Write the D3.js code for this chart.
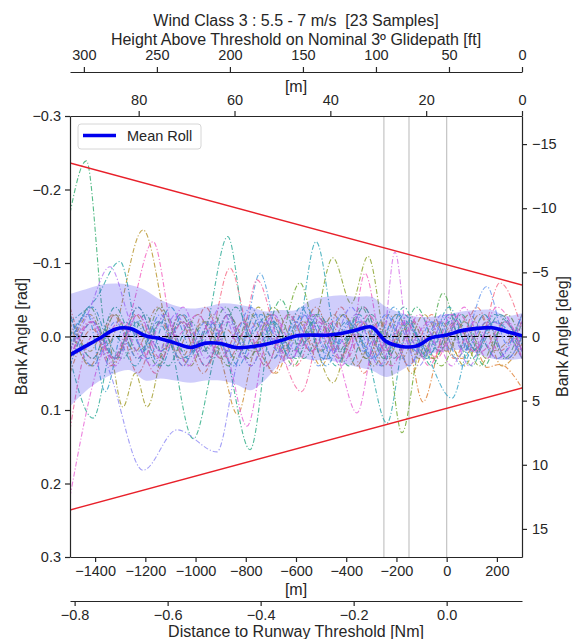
<!DOCTYPE html>
<html>
<head>
<meta charset="utf-8">
<script src="https://cdn.jsdelivr.net/npm/d3@7"></script>
<style>
  body { margin: 0; background: #fff; }
  text { font-family: "Liberation Sans", Arial, sans-serif; fill: #262626; }
</style>
</head>
<body>
<script>
// ticks
var xTicksM = [-1400, -1200, -1000, -800, -600, -400, -200, 0, 200];
var yTicksRad = [-0.3, -0.2, -0.1, 0.0, 0.1, 0.2, 0.3];
var yTicksDeg = [-15, -10, -5, 0, 5, 10, 15];
var ftTicks = [300, 250, 200, 150, 100, 50, 0];
var heightMTicks = [80, 60, 40, 20, 0];
var nmTicks = [-0.8, -0.6, -0.4, -0.2, 0.0];

// reference lines
var markerLinesM = [-250, -150, 0];
var envelopeM = [-1500, 300];
var envelopeRad = [0.236, 0.070];

// mean roll and +/- std band on a 60 m grid
var gridM = [-1500, -1440, -1380, -1320, -1260, -1200, -1140, -1080, -1020, -960, -900, -840, -780, -720, -660, -600,
  -540, -480, -420, -360, -300, -240, -180, -120, -60, 0, 60, 120, 180, 240, 300];
var meanRoll = [0.025, 0.0135, 0.002, -0.010, -0.011, -0.001, 0.003, 0.009, 0.015, 0.009, 0.0095, 0.015, 0.014, 0.0105, 0.0055, -0.0007,
  -0.002, -0.0017, -0.004, -0.009, -0.013, 0.007, 0.0135, 0.013, 0.0015, -0.002, -0.008, -0.011, -0.0118, -0.0065, -0.001];
var bandNeg = [-0.058, -0.064, -0.070, -0.072, -0.070, -0.063, -0.050, -0.042, -0.038, -0.040, -0.045, -0.044, -0.040, -0.034, -0.036, -0.036,
  -0.050, -0.054, -0.056, -0.054, -0.054, -0.040, -0.032, -0.027, -0.027, -0.030, -0.034, -0.036, -0.036, -0.028, -0.032];
var bandPos = [0.095, 0.075, 0.060, 0.050, 0.046, 0.060, 0.057, 0.060, 0.063, 0.060, 0.060, 0.065, 0.073, 0.058, 0.036, 0.028,
  0.032, 0.032, 0.036, 0.041, 0.046, 0.055, 0.046, 0.032, 0.023, 0.020, 0.018, 0.023, 0.030, 0.032, 0.030];

// 23 individual approaches, [distance m, roll rad] at turning points
var samples = [
  [[-1500,0.03],[-1420,-0.02],[-1340,0.04],[-1250,-0.01],[-1160,0.05],[-1060,-0.03],[-960,0.02],[-863,-0.093],[-770,0.01],[-690,-0.03],[-600,0.04],[-510,-0.02],[-420,0.03],[-330,-0.04],[-240,0.02],[-150,-0.03],[-60,0.03],[30,-0.02],[120,0.02],[212,-0.073],[300,-0.01]],
  [[-1500,-0.04],[-1410,0.03],[-1320,-0.03],[-1230,0.05],[-1140,-0.02],[-1050,0.04],[-960,-0.04],[-870,0.03],[-780,-0.02],[-690,0.05],[-600,-0.03],[-510,0.02],[-420,-0.04],[-330,0.05],[-240,-0.02],[-150,0.04],[-60,-0.03],[30,0.03],[120,-0.04],[210,0.02],[300,-0.03]],
  [[-1500,0.05],[-1410,-0.01],[-1330,0.04],[-1240,-0.03],[-1150,0.03],[-1060,-0.02],[-970,0.05],[-880,-0.01],[-790,0.03],[-700,-0.03],[-610,0.02],[-520,-0.04],[-430,0.03],[-340,-0.02],[-250,0.04],[-170,-0.01],[-94,0.089],[-10,0.0],[60,0.03],[110,0.015],[160,0.042],[210,0.038],[300,0.07]],
  [[-1500,-0.02],[-1420,0.04],[-1330,-0.03],[-1240,0.02],[-1150,-0.04],[-1060,0.03],[-970,-0.02],[-900,0.03],[-833,0.106],[-760,0.02],[-680,0.05],[-590,-0.02],[-500,0.04],[-410,-0.03],[-320,0.03],[-230,-0.03],[-140,0.05],[-50,-0.02],[40,0.03],[130,-0.03],[220,0.04],[300,0.01]],
  [[-1500,0.02],[-1420,-0.03],[-1350,0.01],[-1209,-0.145],[-1080,0.02],[-990,-0.03],[-900,0.03],[-810,-0.02],[-720,0.04],[-630,-0.03],[-540,0.02],[-450,-0.03],[-360,0.04],[-270,-0.02],[-180,0.03],[-90,-0.03],[0,0.02],[90,-0.03],[180,0.02],[300,-0.02]],
  [[-1500,-0.03],[-1420,0.02],[-1360,-0.01],[-1289,0.096],[-1240,0.05],[-1193,0.096],[-1110,0.0],[-1020,0.04],[-930,-0.03],[-840,0.03],[-750,-0.04],[-660,0.02],[-570,-0.02],[-453,0.063],[-370,-0.01],[-290,0.04],[-200,-0.03],[-110,0.03],[-20,-0.02],[70,0.04],[160,-0.02],[240,0.03],[300,0.0]],
  [[-1500,0.04],[-1410,-0.02],[-1320,0.03],[-1230,-0.04],[-1140,0.02],[-1050,-0.02],[-960,0.04],[-870,-0.03],[-780,0.02],[-690,-0.04],[-600,0.01],[-540,0.0],[-453,-0.107],[-380,-0.045],[-313,-0.109],[-230,0.02],[-140,-0.02],[-50,0.03],[40,-0.02],[130,0.04],[220,-0.01],[300,0.03]],
  [[-1500,-0.01],[-1410,0.04],[-1320,-0.03],[-1230,0.03],[-1140,-0.04],[-1050,0.02],[-960,-0.02],[-870,0.04],[-780,-0.03],[-690,0.03],[-584,-0.073],[-500,0.02],[-410,-0.03],[-320,0.03],[-250,-0.01],[-178,0.131],[-100,0.01],[-20,0.04],[70,-0.02],[160,0.03],[240,-0.03],[300,0.01]],
  [[-1500,0.02],[-1420,-0.04],[-1330,0.03],[-1240,-0.02],[-1150,0.04],[-1060,-0.03],[-970,0.02],[-880,-0.04],[-790,0.03],[-700,-0.02],[-610,0.04],[-520,-0.03],[-430,0.02],[-340,-0.04],[-250,0.03],[-160,-0.02],[-90,0.03],[-15,-0.059],[70,0.02],[150,-0.03],[230,0.03],[300,-0.02]],
  [[-1500,-0.168],[-1435,-0.239],[-1360,-0.01],[-1290,0.03],[-1200,-0.03],[-1110,0.04],[-1020,-0.02],[-930,0.03],[-840,-0.04],[-750,0.02],[-660,-0.05],[-570,0.03],[-480,-0.02],[-390,0.04],[-300,-0.03],[-210,0.03],[-120,-0.04],[-30,0.02],[60,-0.03],[150,0.04],[230,-0.02],[300,0.02]],
  [[-1500,-0.03],[-1410,0.03],[-1320,-0.04],[-1230,0.02],[-1130,-0.02],[-1009,0.139],[-900,0.01],[-783,0.154],[-690,-0.02],[-600,0.03],[-510,-0.03],[-420,0.02],[-330,-0.04],[-240,0.03],[-150,-0.02],[-60,0.04],[30,-0.03],[120,0.02],[210,-0.03],[300,0.02]],
  [[-1500,0.03],[-1408,0.111],[-1320,0.0],[-1240,0.04],[-1150,-0.02],[-1060,0.03],[-960,-0.01],[-872,-0.136],[-790,0.0],[-710,-0.03],[-620,0.03],[-530,-0.02],[-440,0.04],[-350,-0.03],[-260,0.02],[-170,-0.04],[-80,0.03],[10,-0.02],[100,0.04],[190,-0.03],[300,0.01]],
  [[-1500,-0.02],[-1400,-0.05],[-1301,-0.102],[-1210,0.02],[-1120,-0.03],[-1030,0.03],[-940,-0.02],[-850,0.04],[-760,-0.03],[-670,0.02],[-580,-0.04],[-490,0.03],[-400,-0.02],[-320,0.02],[-238,0.118],[-160,0.0],[-80,0.03],[10,-0.03],[100,0.02],[190,-0.02],[300,0.03]],
  [[-1500,0.01],[-1410,-0.04],[-1320,0.03],[-1230,-0.02],[-1140,0.04],[-1050,-0.03],[-960,0.02],[-870,-0.03],[-780,0.04],[-690,-0.02],[-610,0.02],[-520,-0.129],[-430,0.01],[-350,-0.02],[-260,0.04],[-170,-0.03],[-80,0.02],[10,-0.04],[100,0.03],[190,-0.02],[300,0.02]],
  [[-1500,0.0],[-1430,-0.03],[-1360,0.075],[-1280,-0.02],[-1190,0.03],[-1100,-0.04],[-1010,0.02],[-920,-0.02],[-830,0.04],[-740,-0.03],[-650,0.02],[-560,-0.04],[-470,0.03],[-380,-0.02],[-290,0.03],[-200,-0.03],[-100,0.01],[21,0.084],[110,-0.01],[200,0.03],[300,-0.03]],
  [[-1500,0.04],[-1410,-0.02],[-1320,0.03],[-1230,-0.04],[-1140,0.02],[-1050,-0.02],[-960,0.04],[-870,-0.03],[-820,0.01],[-743,-0.086],[-660,0.01],[-570,-0.03],[-480,0.04],[-390,-0.02],[-300,0.03],[-210,-0.04],[-120,0.02],[-30,-0.02],[60,0.04],[150,-0.03],[240,0.03],[300,0.0]],
  [[-1500,-0.03],[-1410,0.04],[-1320,-0.02],[-1230,0.03],[-1140,-0.03],[-1050,0.04],[-960,-0.02],[-870,0.02],[-780,-0.04],[-690,0.03],[-600,-0.02],[-510,0.04],[-420,-0.03],[-330,0.02],[-240,-0.03],[-150,0.04],[-60,-0.02],[40,0.03],[160,-0.068],[240,0.01],[300,-0.03]],
  [[-1500,0.02],[-1430,-0.03],[-1340,0.05],[-1209,0.182],[-1074,0.127],[-915,0.157],[-830,0.03],[-740,-0.02],[-650,0.03],[-560,-0.03],[-470,0.02],[-380,-0.04],[-290,0.03],[-200,-0.02],[-110,0.04],[-20,-0.03],[70,0.02],[160,-0.02],[240,0.03],[300,0.0]],
  [[-1500,0.02],[-1430,-0.03],[-1341,-0.095],[-1260,-0.02],[-1170,0.04],[-1080,-0.03],[-990,0.02],[-900,-0.04],[-810,0.03],[-720,-0.02],[-630,0.04],[-540,-0.03],[-450,0.02],[-360,-0.03],[-270,0.04],[-180,-0.02],[-90,0.03],[0,-0.03],[90,0.04],[180,-0.02],[300,0.03]],
  [[-1500,0.03],[-1410,-0.02],[-1320,0.04],[-1230,-0.03],[-1140,0.02],[-1050,-0.04],[-960,0.03],[-870,-0.02],[-780,0.04],[-690,-0.03],[-600,0.02],[-510,-0.02],[-420,0.04],[-330,-0.02],[-260,0.02],[-206,-0.115],[-150,0.01],[-70,-0.02],[20,0.04],[110,-0.02],[200,0.03],[300,-0.02]],
  [[-1500,0.218],[-1380,0.03],[-1300,-0.02],[-1210,0.03],[-1120,-0.03],[-1030,0.04],[-940,-0.02],[-870,0.03],[-795,0.122],[-710,0.0],[-620,0.03],[-530,-0.03],[-440,0.02],[-357,0.104],[-280,0.0],[-200,0.03],[-110,-0.03],[-20,0.02],[70,-0.04],[160,0.03],[240,-0.02],[300,0.02]],
  [[-1500,0.03],[-1410,-0.02],[-1330,0.03],[-1260,-0.03],[-1169,-0.129],[-1080,0.0],[-990,-0.03],[-900,0.03],[-810,-0.02],[-720,0.04],[-630,-0.03],[-540,0.02],[-450,-0.02],[-390,0.02],[-325,-0.086],[-250,0.02],[-160,-0.02],[-70,0.04],[20,-0.03],[110,0.02],[200,-0.04],[300,0.02]],
  [[-1500,0.127],[-1410,0.0],[-1320,0.03],[-1230,-0.03],[-1140,0.03],[-1050,-0.02],[-960,0.04],[-870,-0.03],[-820,0.0],[-755,-0.077],[-670,0.01],[-578,0.075],[-490,-0.02],[-400,0.03],[-310,-0.03],[-220,0.04],[-130,-0.02],[-40,0.03],[50,-0.03],[140,0.02],[230,-0.02],[300,0.03]]
];

// husl-like palette anchors
var paletteAnchors = ["#f77189", "#dc8932", "#ae9d31", "#77ab31", "#33b07a", "#36ada4", "#38a9c5", "#6e9bf4", "#cc7af4", "#f565cc"];

var width = 574, height = 639;
var pLeft = 70, pRight = 522, pTop = 116, pBottom = 557;
var tan3 = Math.tan(3 * Math.PI / 180);
var rad2deg = 180 / Math.PI;

var svg = d3.select("body").append("svg")
    .attr("width", width)
    .attr("height", height);

var x = d3.scaleLinear().domain([-1500, 300]).range([pLeft, pRight]);
var y = d3.scaleLinear().domain([-0.3, 0.3]).range([pTop, pBottom]);
var yDeg = d3.scaleLinear().domain([-0.3 * rad2deg, 0.3 * rad2deg]).range([pTop, pBottom]);
// height above threshold on the 3 deg path (0 at the right edge)
var hM = d3.scaleLinear().domain([0, 1800 * tan3]).range([pRight, pLeft]);
var hFt = d3.scaleLinear().domain([0, 1800 * tan3 / 0.3048]).range([pRight, pLeft]);
var xNm = d3.scaleLinear().domain([-1500 / 1852, 300 / 1852]).range([pLeft, pRight]);

function colorAt(i) {
  var p = i * paletteAnchors.length / samples.length;
  var k = Math.floor(p);
  return d3.interpolateRgb(paletteAnchors[k], paletteAnchors[(k + 1) % paletteAnchors.length])(p - k);
}

svg.append("clipPath").attr("id", "plot")
  .append("rect").attr("x", pLeft).attr("y", pTop).attr("width", pRight - pLeft).attr("height", pBottom - pTop);

var plot = svg.append("g").attr("clip-path", "url(#plot)");

// grey markers
plot.selectAll(".marker")
    .data(markerLinesM)
  .enter().append("line")
    .attr("x1", function(d) { return x(d); })
    .attr("x2", function(d) { return x(d); })
    .attr("y1", pTop).attr("y2", pBottom)
    .style("stroke", "#c4c4c4")
    .style("stroke-width", 1.2);

// sample traces
var traceLine = d3.line()
    .x(function(d) { return x(d[0]); })
    .y(function(d) { return y(d[1]); })
    .curve(d3.curveMonotoneX);

plot.selectAll(".sample")
    .data(samples)
  .enter().append("path")
    .attr("class", "sample")
    .attr("d", traceLine)
    .style("fill", "none")
    .style("stroke", function(d, i) { return colorAt(i); })
    .style("stroke-width", 1.1)
    .style("stroke-opacity", 0.85)
    .style("stroke-dasharray", "5,2,1.2,2");

// std band
var band = d3.area()
    .x(function(d, i) { return x(gridM[i]); })
    .y0(function(d, i) { return y(bandNeg[i]); })
    .y1(function(d, i) { return y(bandPos[i]); })
    .curve(d3.curveCatmullRom);

plot.append("path")
    .datum(gridM)
    .attr("d", band)
    .style("fill", "rgb(70,60,240)")
    .style("fill-opacity", 0.26);

// zero line
plot.append("line")
    .attr("x1", pLeft).attr("x2", pRight)
    .attr("y1", y(0)).attr("y2", y(0))
    .style("stroke", "#000")
    .style("stroke-width", 1.2)
    .style("stroke-dasharray", "6,2,1.5,2");

// red envelope
[1, -1].forEach(function(s) {
  plot.append("line")
      .attr("x1", x(envelopeM[0])).attr("y1", y(s * envelopeRad[0]))
      .attr("x2", x(envelopeM[1])).attr("y2", y(s * envelopeRad[1]))
      .style("stroke", "#e8202a")
      .style("stroke-width", 1.4);
});

// mean roll
var meanLine = d3.line()
    .x(function(d, i) { return x(gridM[i]); })
    .y(function(d) { return y(d); })
    .curve(d3.curveCatmullRom);

plot.append("path")
    .datum(meanRoll)
    .attr("d", meanLine)
    .style("fill", "none")
    .style("stroke", "#0000ee")
    .style("stroke-width", 3.6);

// axes
function styleAxis(g, fs) {
  g.selectAll("path, line").style("stroke", "#262626").style("stroke-width", 1.2);
  g.selectAll("text").style("font-size", fs + "px").style("fill", "#262626")
    .style("font-family", "'Liberation Sans', Arial, sans-serif");
}
var tfs = 14.5;

svg.append("g")
    .attr("transform", "translate(" + pLeft + ",0)")
    .call(d3.axisLeft(y).tickValues(yTicksRad).tickFormat(d3.format(".1f")).tickSize(5).tickSizeOuter(0).tickPadding(4))
    .call(styleAxis, tfs);

svg.append("g")
    .attr("transform", "translate(" + pRight + ",0)")
    .call(d3.axisRight(yDeg).tickValues(yTicksDeg).tickFormat(d3.format("d")).tickSize(5).tickSizeOuter(0).tickPadding(5))
    .call(styleAxis, tfs);

svg.append("g")
    .attr("transform", "translate(0," + pBottom + ")")
    .call(d3.axisBottom(x).tickValues(xTicksM).tickFormat(d3.format("d")).tickSize(5).tickSizeOuter(0).tickPadding(4))
    .call(styleAxis, tfs);

svg.append("g")
    .attr("transform", "translate(0," + pTop + ")")
    .call(d3.axisTop(hM).tickValues(heightMTicks).tickSize(5).tickSizeOuter(0).tickPadding(6))
    .call(styleAxis, tfs);

svg.append("g")
    .attr("transform", "translate(0,72)")
    .call(d3.axisTop(hFt).tickValues(ftTicks).tickSize(5).tickSizeOuter(0).tickPadding(7))
    .call(styleAxis, tfs);

svg.append("g")
    .attr("transform", "translate(0,601)")
    .call(d3.axisBottom(xNm).tickValues(nmTicks).tickFormat(d3.format(".1f")).tickSize(5).tickSizeOuter(0).tickPadding(4))
    .call(styleAxis, tfs);

// labels
var lfs = "16px";
var cx = (pLeft + pRight) / 2;
svg.append("text").attr("x", cx).attr("y", 26).style("text-anchor", "middle").style("font-size", lfs)
    .text("Wind Class 3 : 5.5 - 7 m/s\u00a0\u00a0[23 Samples]");
svg.append("text").attr("x", cx).attr("y", 45).style("text-anchor", "middle").style("font-size", lfs)
    .text("Height Above Threshold on Nominal 3\u00ba Glidepath [ft]");
svg.append("text").attr("x", cx).attr("y", 92).style("text-anchor", "middle").style("font-size", lfs)
    .text("[m]");
svg.append("text").attr("x", cx).attr("y", 595).style("text-anchor", "middle").style("font-size", lfs)
    .text("[m]");
svg.append("text").attr("x", cx).attr("y", 636.5).style("text-anchor", "middle").style("font-size", lfs)
    .text("Distance to Runway Threshold [Nm]");
svg.append("text")
    .attr("transform", "translate(27," + y(0) + ") rotate(-90)")
    .style("text-anchor", "middle").style("font-size", lfs)
    .text("Bank Angle [rad]");
svg.append("text")
    .attr("transform", "translate(568," + y(0) + ") rotate(-90)")
    .style("text-anchor", "middle").style("font-size", lfs)
    .text("Bank Angle [deg]");

// legend
var legend = svg.append("g").attr("transform", "translate(78,124)");
legend.append("rect")
    .attr("width", 123).attr("height", 25).attr("rx", 3)
    .style("fill", "#fff").style("fill-opacity", 0.85)
    .style("stroke", "#d6d6d6").style("stroke-width", 1);
legend.append("line")
    .attr("x1", 5).attr("x2", 38).attr("y1", 11.5).attr("y2", 11.5)
    .style("stroke", "#0000ee").style("stroke-width", 3.6);
legend.append("text")
    .attr("x", 49).attr("y", 17).style("font-size", tfs + "px")
    .text("Mean Roll");
</script>
</body>
</html>
